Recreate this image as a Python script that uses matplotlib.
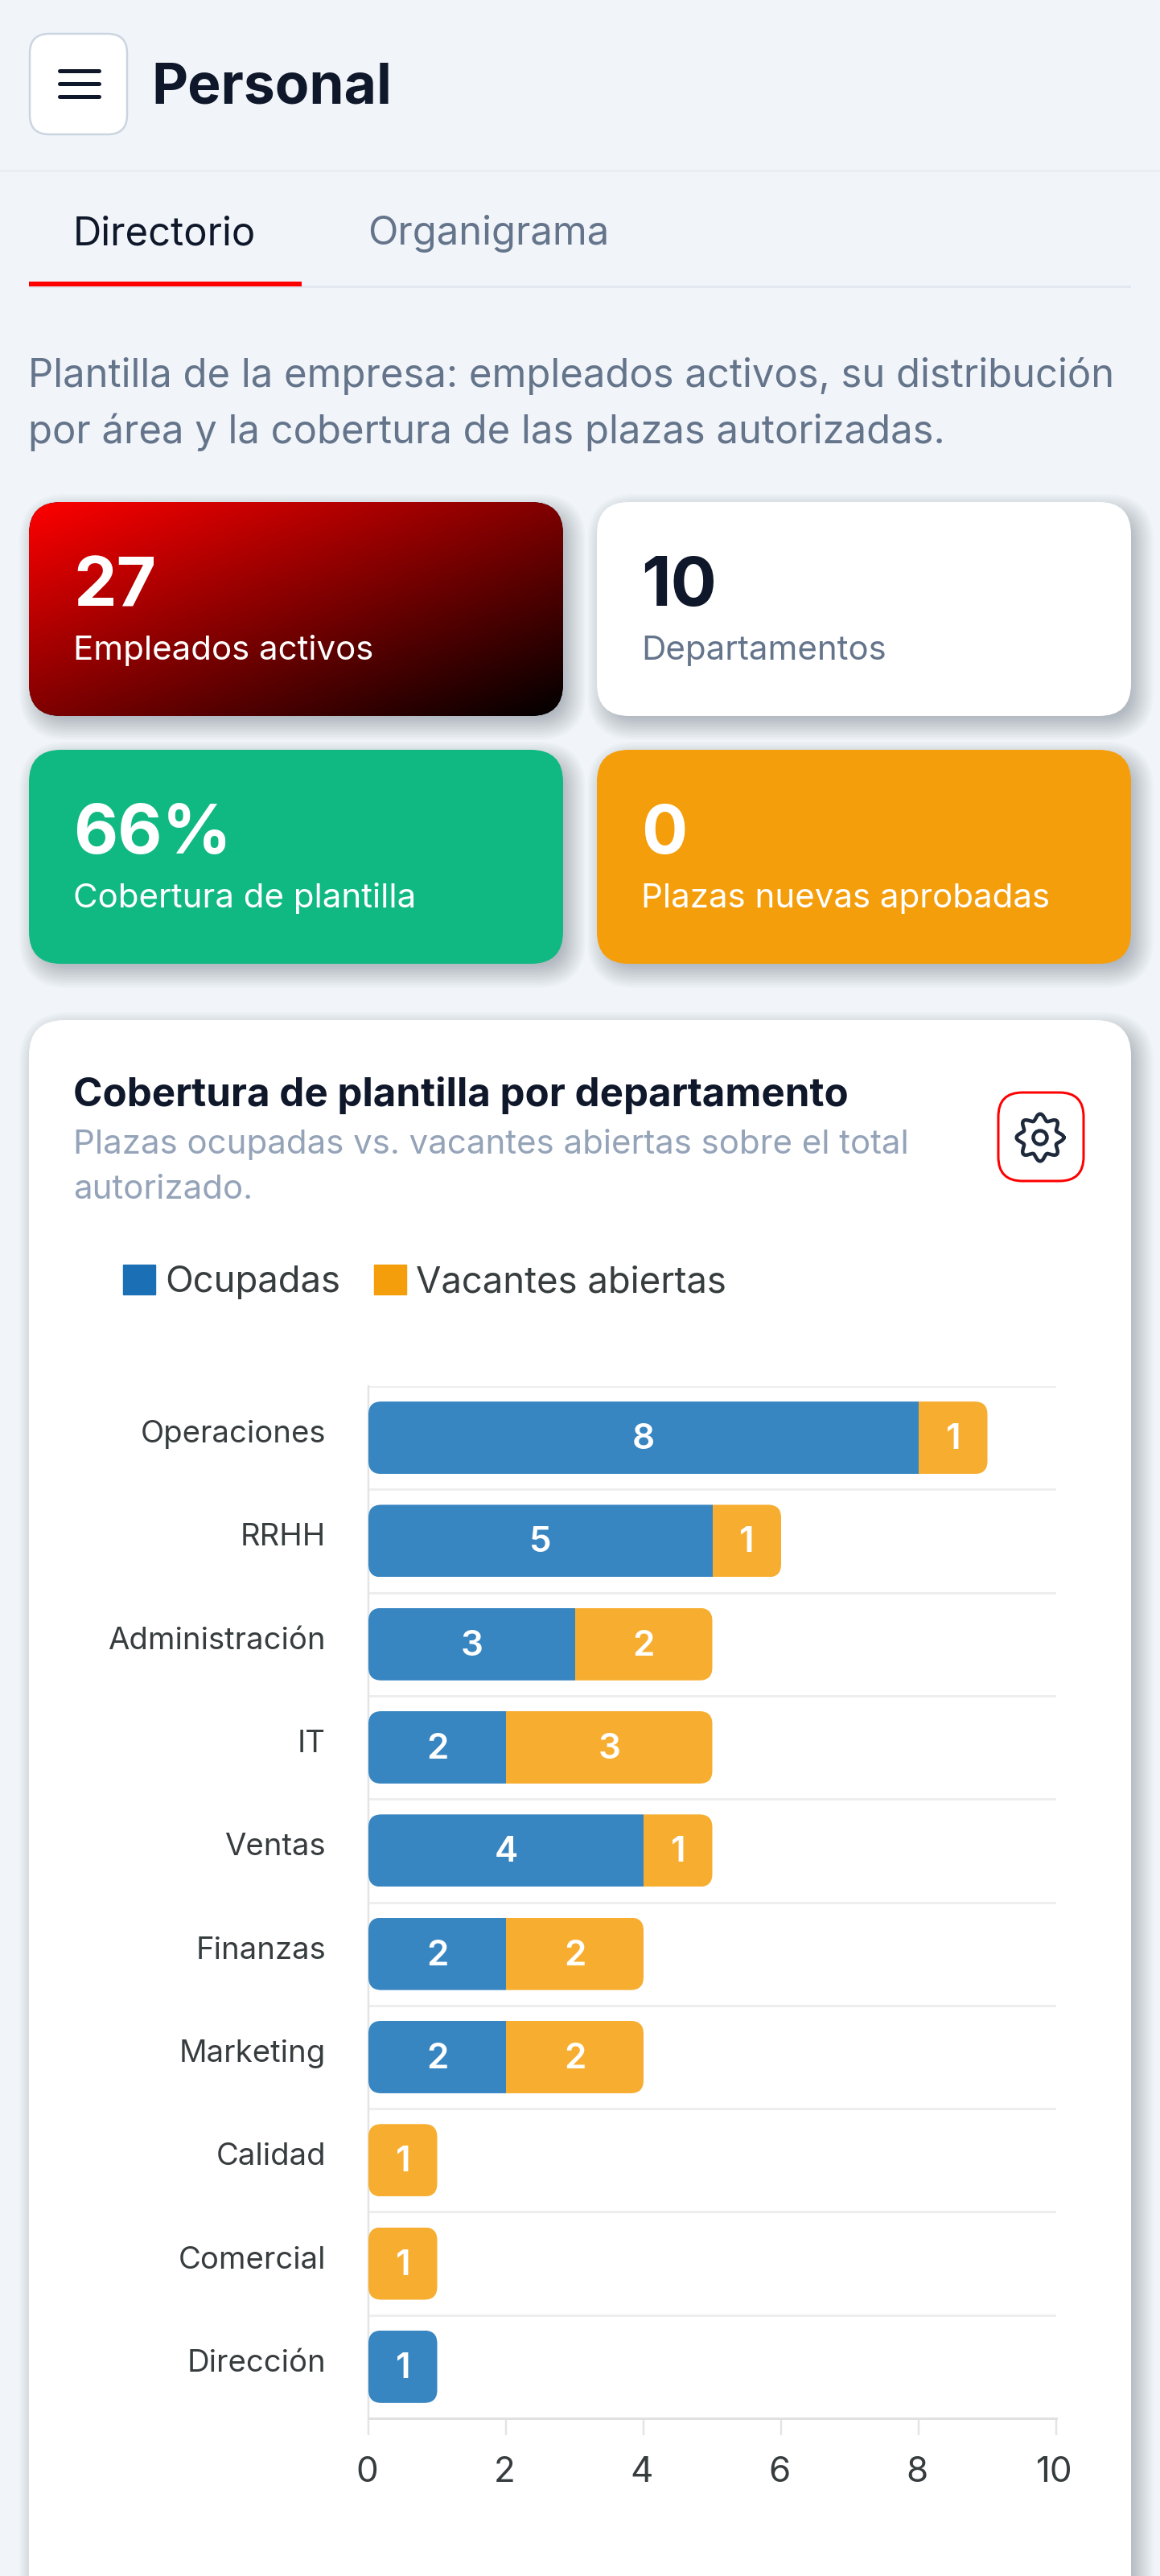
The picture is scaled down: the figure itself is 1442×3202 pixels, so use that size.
import numpy as np
import matplotlib
matplotlib.use("Agg")
import matplotlib.pyplot as plt
from matplotlib.patches import FancyBboxPatch, Patch, Circle, Rectangle
from matplotlib.transforms import IdentityTransform, Affine2D

# ---- data ----
departments = ["Operaciones", "RRHH", "Administración", "IT", "Ventas",
               "Finanzas", "Marketing", "Calidad", "Comercial", "Dirección"]
occupied = [8, 5, 3, 2, 4, 2, 2, 0, 0, 1]
vacant = [1, 1, 2, 3, 1, 2, 2, 1, 1, 0]
x_ticks = [0, 2, 4, 6, 8, 10]
series_names = ["Ocupadas", "Vacantes abiertas"]
kpi_values = ["27", "10", "66%", "0"]
kpi_labels = ["Empleados activos", "Departamentos", "Cobertura de plantilla", "Plazas nuevas aprobadas"]

W, H = 1442, 3202
INK = "#0f172a"
SLATE = "#64748b"
MUTED = "#94a3b8"
BG = "#f1f5f9"
AXTXT = "#373d3f"
BLUE, ORANGE = "#3785c1", "#f7ae30"
BLUE_L, ORANGE_L = "#1a6fb5", "#f59e0b"
FONT = "Inter"
plt.rcParams["font.family"] = [FONT, "DejaVu Sans"]


def pt(px):
    return px * 0.72


fig = plt.figure(figsize=(W / 100, H / 100), dpi=100, facecolor=BG)
ui = fig.add_axes([0, 0, 1, 1], zorder=0)
ui.set_xlim(0, W)
ui.set_ylim(H, 0)
ui.axis("off")


def rbox(x0, y0, x1, y1, r, **kw):
    p = FancyBboxPatch((x0, y0), x1 - x0, y1 - y0,
                       boxstyle=f"round,pad=0,rounding_size={r}", **kw)
    ui.add_patch(p)
    return p


def shadow(x0, y0, x1, y1, r):
    for e in range(20, -12, -2):
        rbox(x0 + 8 - e, y0 + 10 - e, x1 + 8 + e, y1 + 10 + e, max(r + e, 4),
             fc="#1e293b", ec="none", alpha=0.02, zorder=1)


def label(x, y, s, px, color, weight="normal", ha="left", zorder=5):
    return ui.text(x, y, s, fontsize=pt(px), color=color, fontweight=weight,
                   ha=ha, va="baseline", zorder=zorder)


# ---- header ----
rbox(37, 42, 158, 167, 24, fc="white", ec="#cbd5e1", lw=1.8, zorder=2)
for yy in (88, 104, 120):
    ui.plot([74, 123], [yy, yy], color=INK, lw=pt(5), solid_capstyle="round", zorder=3)
label(188, 128, "Personal", 69.5, INK, "bold")
ui.add_patch(Rectangle((0, 210.5), W, 3, fc="#e9eef3", ec="none", zorder=1))

# ---- tabs ----
label(91, 304, "Directorio", 49, INK)
label(457, 304, "Organigrama", 49, SLATE)
ui.add_patch(Rectangle((36, 355), 1370, 3, fc="#e2e8f0", ec="none", zorder=1))
ui.add_patch(Rectangle((36, 350), 339, 5.5, fc="#ff0000", ec="none", zorder=2))

# ---- intro ----
label(35, 481, "Plantilla de la empresa: empleados activos, su distribución", 49, SLATE)
label(35, 551, "por área y la cobertura de las plazas autorizadas.", 49, SLATE)

# ---- KPI cards ----
cards = [(36, 624, 700, 890), (742, 624, 1406, 890), (36, 932, 700, 1198), (742, 932, 1406, 1198)]
card_fc = [None, "white", "#10b981", "#f59e0b"]
val_col = ["white", INK, "white", "white"]
lab_col = ["white", SLATE, "white", "white"]
for i, (x0, y0, x1, y1) in enumerate(cards):
    shadow(x0, y0, x1, y1, 40)
    if card_fc[i] is None:
        p = rbox(x0, y0, x1, y1, 40, fc="black", ec="none", zorder=2)
        xx, yy = np.meshgrid(np.linspace(0, 1, 400), np.linspace(0, 1, 200))
        t = 0.5 * (xx + yy)
        img = np.dstack([1 - t, np.zeros_like(t), np.zeros_like(t)])
        im = ui.imshow(img, extent=(x0, x1, y1, y0), aspect="auto", zorder=3,
                       interpolation="bilinear")
        im.set_clip_path(p)
        ui.set_xlim(0, W)
        ui.set_ylim(H, 0)
    else:
        rbox(x0, y0, x1, y1, 40, fc=card_fc[i], ec="none", zorder=2)
    label(x0 + 55, y0 + 129, kpi_values[i], 85, val_col[i], "bold")
    label(x0 + 55, y0 + 196, kpi_labels[i], 42, lab_col[i])

# ---- main card ----
shadow(36, 1268, 1406, 3320, 44)
rbox(36, 1268, 1406, 3320, 44, fc="white", ec="none", zorder=2)
label(91, 1375, "Cobertura de plantilla por departamento", 49.2, INK, "bold")
label(91, 1434, "Plazas ocupadas vs. vacantes abiertas sobre el total", 42, MUTED)
label(91, 1490, "autorizado.", 42, MUTED)

# gear button
rbox(1241, 1358, 1347, 1468, 30, fc="white", ec="#ff0000", lw=pt(3), zorder=3)
theta = np.linspace(0, 2 * np.pi, 721)
rad = 25.5 + 3.8 * np.cos(8 * (theta - np.pi / 2))
ui.plot(1293 + rad * np.cos(theta), 1414 + rad * np.sin(theta), color="#1e293b",
        lw=pt(4.5), zorder=4)
ui.add_patch(Circle((1293, 1414), 8.5, fc="none", ec="#1e293b", lw=pt(4.5), zorder=4))

# ---- chart ----
PX0, PX1, PY0, PY1 = 458, 1313, 1723, 3006
ax = fig.add_axes([PX0 / W, 1 - PY1 / H, (PX1 - PX0) / W, (PY1 - PY0) / H], zorder=5)
ax.patch.set_alpha(0)
y = np.arange(len(departments))
ax.set_xlim(0, 10)
ax.set_ylim(len(departments) - 0.5, -0.5)
h = 90 / ((PY1 - PY0) / len(departments))
b1 = ax.barh(y, occupied, height=h, color=BLUE, zorder=3)
b2 = ax.barh(y, vacant, left=occupied, height=h, color=ORANGE, zorder=3)

fig.canvas.draw()
for i in range(len(departments)):
    total = occupied[i] + vacant[i]
    (ax0, ay0), (ax1, ay1) = ax.transData.transform([(0, i + h / 2), (total, i - h / 2)])
    clip = FancyBboxPatch((ax0, ay0), ax1 - ax0, ay1 - ay0,
                          boxstyle="round,pad=0,rounding_size=16", transform=IdentityTransform())
    b1[i].set_clip_path(clip)
    b2[i].set_clip_path(clip)

for cont, vals in ((b1, occupied), (b2, vacant)):
    labs = ax.bar_label(cont, labels=[str(v) if v else "" for v in vals], label_type="center",
                        color="white", fontsize=pt(44), fontweight="semibold", zorder=4)
    for t in labs:
        t.xyann = (0, -pt(2.5))

ax.set_yticks(y)
ax.set_yticklabels(departments, fontsize=pt(38.3), color=AXTXT, va="baseline")
ax.set_yticks(np.arange(len(departments) + 1) - 0.5, minor=True)
ax.set_xticks(x_ticks)
ax.set_xticklabels([str(v) for v in x_ticks], fontsize=pt(44), color=AXTXT)
ax.tick_params(axis="y", which="major", length=0, pad=pt(53))
ax.tick_params(axis="y", which="minor", length=0)
ax.tick_params(axis="x", length=pt(21), width=pt(2.5), color="#e4e4e4", pad=pt(26))
ax.grid(axis="y", which="minor", color="#eeeeee", lw=pt(3), zorder=1)
ax.set_axisbelow(True)
for s in ("top", "right"):
    ax.spines[s].set_visible(False)
ax.spines["left"].set_color("#e4e4e4")
ax.spines["left"].set_linewidth(pt(2.5))
ax.spines["bottom"].set_color("#e0e0e0")
ax.spines["bottom"].set_linewidth(pt(3))
for t in ax.get_yticklabels():
    t.set_transform(t.get_transform() + Affine2D().translate(0, -6))
for t in ax.get_xticklabels():
    t.set_transform(t.get_transform() + Affine2D().translate(-2, 0))

ax.legend(handles=[Patch(color=BLUE_L, label=series_names[0]), Patch(color=ORANGE_L, label=series_names[1])],
          loc="upper left", bbox_to_anchor=(153, H - 1572), bbox_transform=IdentityTransform(),
          ncol=2, frameon=False, fontsize=pt(45.5), labelcolor=AXTXT, borderpad=0, borderaxespad=0,
          handlelength=0.87, handleheight=0.87, handletextpad=0.27, columnspacing=0.93)

fig.savefig("out.png", dpi=100, facecolor=BG)
